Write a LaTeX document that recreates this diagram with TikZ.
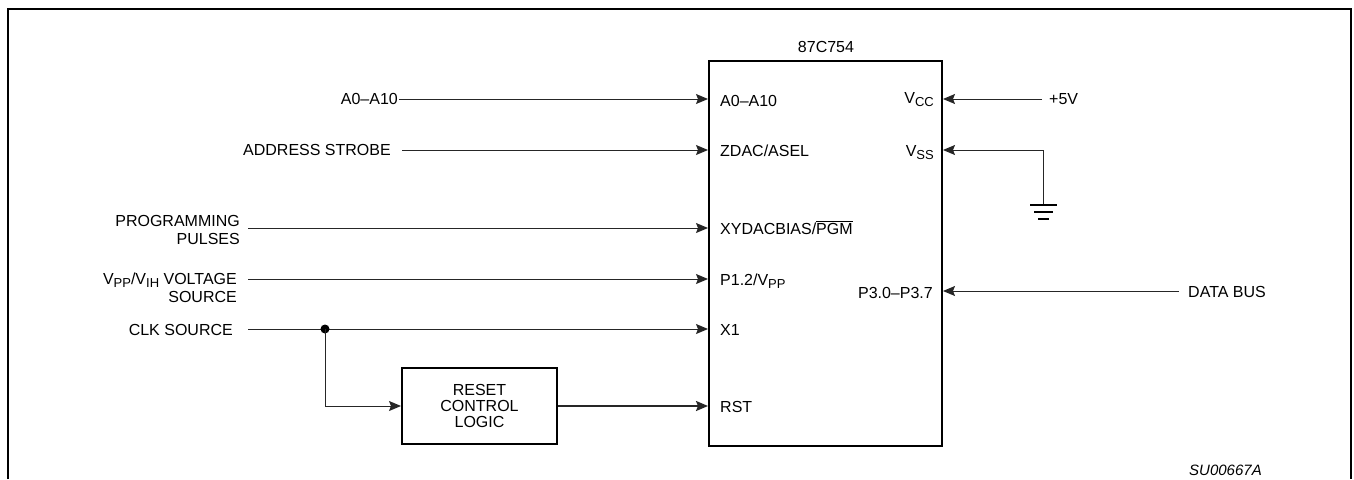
\documentclass[tikz,border=0pt]{standalone}
\usepackage{fontspec}
\setmainfont{Liberation Sans}
\usetikzlibrary{arrows.meta}
\newcommand{\lowtxt}[1]{\raisebox{-0.45ex}{\fontsize{13}{13}\selectfont #1}}

\begin{document}
\begin{tikzpicture}[x=1pt, y=-1pt]
				\tikzstyle{every node}=[inner sep=0pt, align=center, font=\fontsize{16}{18}\selectfont]
				\tikzstyle{wire}=[line width=1pt, draw=black!85]
				\tikzstyle{pin}=[wire, -{Stealth[length=12pt, width=10pt, inset=2pt]}]
				\tikzstyle{block}=[draw, line width=2pt]
				\useasboundingbox (0,0) rectangle (1354,479);
				\draw[line width=2pt] (8,479) -- (8,9) -- (1351,9) -- (1351,479);
				% the device
				\node[block, minimum width=233pt, minimum height=385pt] (U) at (825.5,253.5) {};
				\node[anchor=base] (Uname) at (826,52.5) {87C754};
				\node[anchor=base west] (pA) at (720,106) {A0--A10};
				\node[anchor=base west] (pZ) at (720,156) {ZDAC/ASEL};
				\node[anchor=base west] (pX) at (720,234) {XYDACBIAS/$\overline{\mbox{PGM}}$};
				\node[anchor=base west] (pP) at (720,285) {P1.2/V\lowtxt{PP}};
				\node[anchor=base west] (pC) at (720,335) {X1};
				\node[anchor=base west] (pR) at (720,412) {RST};
				\node[anchor=base east] (pV) at (934,103) {V\lowtxt{CC}};
				\node[anchor=base east] (pS) at (934,156) {V\lowtxt{SS}};
				\node[anchor=base east] (pD) at (933,298) {P3.0--P3.7};
				% sources on the left
				\node[anchor=base east] (sA) at (398,104.5) {A0--A10};
				\node[anchor=base east] (sAS) at (391,155.5) {ADDRESS STROBE};
				\node[anchor=base east, align=right] (sPG) at (240,244) {PROGRAMMING\\PULSES};
				\node[anchor=base east, align=right] (sVP) at (237,302) {V\lowtxt{PP}/V\lowtxt{IH} VOLTAGE\\SOURCE};
				\node[anchor=base east] (sCK) at (233,335) {CLK SOURCE};
				\coordinate (cA) at (399,99);
				\coordinate (cAS) at (402,150);
				\coordinate (cPG) at (248,228);
				\coordinate (cVP) at (248,279);
				\coordinate (cCK) at (248,329);
				\coordinate (jn) at (325,329);
				\draw[pin] (cA) -- (cA -| U.west);
				\draw[pin] (cAS) -- (cAS -| U.west);
				\draw[pin] (cPG) -- (cPG -| U.west);
				\draw[pin] (cVP) -- (cVP -| U.west);
				\draw[pin] (cCK) -- (cCK -| U.west);
				\fill (jn) circle (4.5pt);
				% reset logic
				\node[block, minimum width=155pt, minimum height=76pt, font=\fontsize{16}{16}\selectfont] (rst) at (479.5,406) {RESET\\CONTROL\\LOGIC};
				\draw[pin] (jn) |- (rst.west);
				\draw[pin, line width=2pt] (rst.east) -- (rst.east -| U.west);
				% supply, ground and data bus on the right
				\coordinate (cV5) at (1042,99);
				\coordinate (gnd) at (1043,205);
				\coordinate (cDB) at (1179,291);
				\node[anchor=base west] (v5) at (1049,104.5) {+5V};
				\node[anchor=base west] (db) at (1188,297.5) {DATA BUS};
				\draw[pin] (cV5) -- (cV5 -| U.east);
				\draw[pin] (gnd) |- (U.east |- 0,150);
				\draw[pin] (cDB) -- (cDB -| U.east);
				\draw[line width=2.5pt] ([xshift=-13pt]gnd) -- ([xshift=14pt]gnd);
				\draw[line width=2.5pt] ([xshift=-9pt, yshift=-7pt]gnd) -- ([xshift=10pt, yshift=-7pt]gnd);
				\draw[line width=2.5pt] ([xshift=-5pt, yshift=-14pt]gnd) -- ([xshift=6pt, yshift=-14pt]gnd);
				\node[anchor=base west, font=\fontsize{15}{15}\selectfont\itshape] (fig) at (1189,475) {SU00667A};
\end{tikzpicture}
\end{document}
